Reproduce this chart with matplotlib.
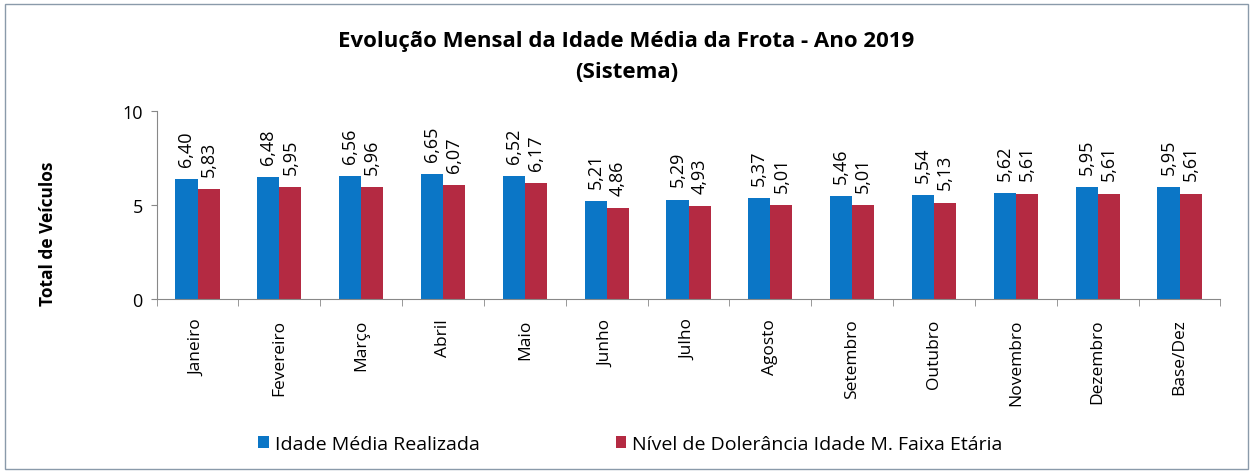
import numpy as np
import matplotlib
matplotlib.use('Agg')
import matplotlib.pyplot as plt
from matplotlib.patches import Rectangle

# dados do gráfico
meses = ['Janeiro', 'Fevereiro', 'Março', 'Abril', 'Maio', 'Junho', 'Julho',
         'Agosto', 'Setembro', 'Outubro', 'Novembro', 'Dezembro', 'Base/Dez']
idade_realizada = [6.40, 6.48, 6.56, 6.65, 6.52, 5.21, 5.29, 5.37, 5.46, 5.54, 5.62, 5.95, 5.95]
nivel_tolerancia = [5.83, 5.95, 5.96, 6.07, 6.17, 4.86, 4.93, 5.01, 5.01, 5.13, 5.61, 5.61, 5.61]

cor_azul = '#0B76C6'
cor_verm = '#B42A42'

plt.rcParams['font.family'] = ['Open Sans', 'DejaVu Sans']

fig = plt.figure(figsize=(12.53, 4.77), dpi=100)
ax = fig.add_axes([0.125, 0.371, 0.849, 0.394])

x = np.arange(len(meses))
w = 0.27
ax.bar(x - w / 2, idade_realizada, w, color=cor_azul, label='Idade Média Realizada')
ax.bar(x + w / 2, nivel_tolerancia, w, color=cor_verm, label='Nível de Dolerância Idade M. Faixa Etária')

# rótulos de valor, girados
for i in range(len(meses)):
    ax.text(x[i] - w / 2, idade_realizada[i] + 0.7, f'{idade_realizada[i]:.2f}'.replace('.', ','),
            rotation=90, ha='center', va='bottom', fontsize=13)
    ax.text(x[i] + w / 2, nivel_tolerancia[i] + 0.7, f'{nivel_tolerancia[i]:.2f}'.replace('.', ','),
            rotation=90, ha='center', va='bottom', fontsize=13)

ax.set_xlim(-0.5, len(meses) - 0.5)
ax.set_ylim(0, 10)
ax.set_yticks([0, 5, 10])
ax.tick_params(axis='y', labelsize=13, length=4, color='#888888', pad=6)
ax.set_xticks(x)
ax.set_xticklabels(meses, rotation=90, fontsize=12.5)
ax.set_xticks(np.arange(len(meses) + 1) - 0.5, minor=True)
ax.tick_params(axis='x', which='major', length=0, pad=14)
ax.tick_params(axis='x', which='minor', length=5, color='#888888')
for s in ['top', 'right']:
    ax.spines[s].set_visible(False)
ax.spines['left'].set_color('#888888')
ax.spines['bottom'].set_color('#888888')

fig.text(0.038, 0.51, 'Total de Veículos', rotation=90, ha='center', va='center',
         fontsize=12.5, fontweight='bold')
fig.text(0.5, 0.912, 'Evolução Mensal da Idade Média da Frota - Ano 2019',
         ha='center', va='center', fontsize=16, fontweight='bold')
fig.text(0.5, 0.847, '(Sistema)', ha='center', va='center', fontsize=16, fontweight='bold')

fig.legend(loc='center', bbox_to_anchor=(0.503, 0.067), ncol=2, frameon=False, fontsize=14,
           handlelength=0.55, handleheight=0.55, handletextpad=0.3, columnspacing=7)

fig.patches.append(Rectangle((0.004, 0.015), 0.992, 0.975, transform=fig.transFigure,
                             fill=False, edgecolor='#8a9aaa', linewidth=1))

plt.savefig('out.png', dpi=100)
